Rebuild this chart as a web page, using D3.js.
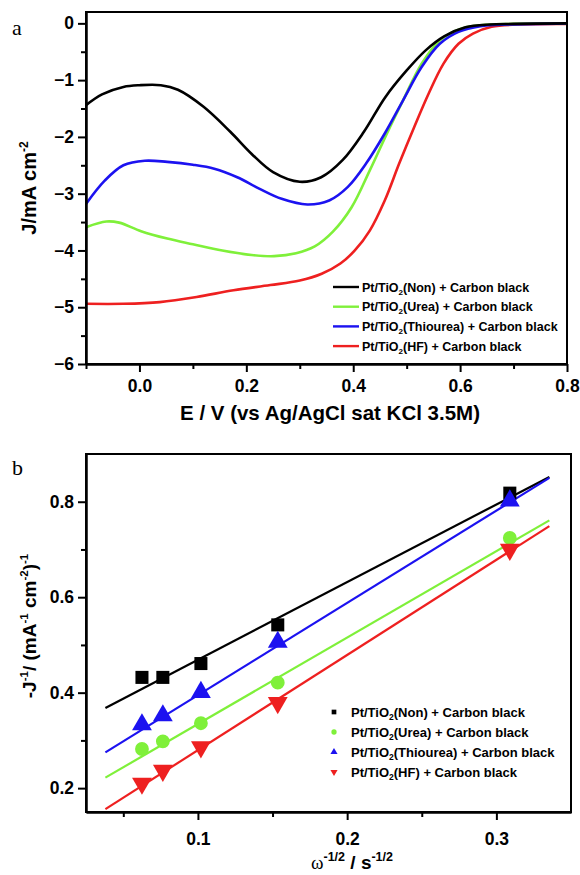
<!DOCTYPE html>
<html>
<head>
<meta charset="utf-8">
<script src="https://cdn.jsdelivr.net/npm/d3@7"></script>
<style>
  body { margin: 0; background: #fff; }
  svg { display: block; }
  .tick text { font-family: "Liberation Sans", Arial, sans-serif; font-weight: bold; }
</style>
</head>
<body>
<script>
// ---- panel a data (E in V, J in mA cm-2)
var labels = ["Non", "Urea", "Thiourea", "HF"];
var colors = ["#000000", "#7ff03a", "#1c12f0", "#ee2020"];

var non_E = [-0.1, -0.07, -0.03, 0.0, 0.04, 0.072, 0.12, 0.17, 0.21, 0.25, 0.30, 0.34, 0.38, 0.42, 0.46, 0.50, 0.535, 0.57, 0.61, 0.655, 0.70, 0.80];
var non_J = [-1.44, -1.25, -1.12, -1.09, -1.09, -1.17, -1.47, -1.91, -2.30, -2.62, -2.79, -2.71, -2.41, -1.91, -1.30, -0.83, -0.48, -0.23, -0.07, -0.02, -0.01, 0];

var urea_E = [-0.1, -0.062, -0.038, 0.003, 0.052, 0.10, 0.155, 0.21, 0.252, 0.293, 0.328, 0.362, 0.397, 0.431, 0.466, 0.493, 0.528, 0.562, 0.603, 0.655, 0.70, 0.80];
var urea_J = [-3.59, -3.49, -3.51, -3.66, -3.79, -3.89, -4.00, -4.08, -4.10, -4.05, -3.93, -3.67, -3.24, -2.59, -1.88, -1.36, -0.71, -0.30, -0.09, -0.02, -0.01, 0];

var thio_E = [-0.1, -0.065, -0.03, 0.01, 0.052, 0.10, 0.14, 0.183, 0.224, 0.266, 0.314, 0.355, 0.39, 0.424, 0.459, 0.493, 0.528, 0.562, 0.597, 0.638, 0.693, 0.80];
var thio_J = [-3.18, -2.77, -2.50, -2.42, -2.44, -2.49, -2.56, -2.71, -2.91, -3.09, -3.19, -3.12, -2.88, -2.47, -1.94, -1.36, -0.77, -0.36, -0.15, -0.05, -0.02, 0];

var hf_E = [-0.1, -0.03, 0.038, 0.107, 0.176, 0.245, 0.30, 0.341, 0.376, 0.403, 0.431, 0.459, 0.486, 0.514, 0.541, 0.569, 0.597, 0.624, 0.659, 0.707, 0.80];
var hf_J = [-4.94, -4.94, -4.91, -4.82, -4.70, -4.61, -4.53, -4.41, -4.23, -4.00, -3.65, -3.12, -2.47, -1.83, -1.24, -0.71, -0.36, -0.18, -0.06, -0.02, -0.01];

// ---- panel b data (omega^-1/2 vs -1/J)
var omega = [0.0625, 0.0765, 0.102, 0.1535, 0.309];
var non_inv = [0.432, 0.432, 0.461, 0.542, 0.818];
var urea_inv = [0.282, 0.298, 0.336, 0.421, 0.724];
var thio_inv = [0.333, 0.352, 0.401, 0.506, 0.802];
var hf_inv = [0.210, 0.237, 0.286, 0.379, 0.700];
// fitted lines, end points as drawn
var fit_x = [0.038, 0.3355];
var non_fit = [0.368, 0.852];
var urea_fit = [0.222, 0.761];
var thio_fit = [0.275, 0.850];
var hf_fit = [0.156, 0.749];

var top_xticks = [0.0, 0.2, 0.4, 0.6, 0.8];
var top_xminor = [-0.1, 0.1, 0.3, 0.5, 0.7];
var top_yticks = [0, -1, -2, -3, -4, -5, -6];
var top_yminor = [-0.5, -1.5, -2.5, -3.5, -4.5, -5.5];
var bot_xticks = [0.1, 0.2, 0.3];
var bot_xminor = [0.05, 0.15, 0.25];
var bot_yticks = [0.2, 0.4, 0.6, 0.8];
var bot_yminor = [0.3, 0.5, 0.7];

var W = 580, H = 875;
var font = '"Liberation Sans", Arial, sans-serif';

var svg = d3.select("body").append("svg")
  .attr("width", W).attr("height", H);

var zip = function(xs, ys) { return xs.map(function(x, i) { return [x, ys[i]]; }); };

// draws the outer box and the axes (major + minor ticks)
var draw_frame = function(g, x, y, xt, xm, yt, ym, xfmt, yfmt, xpad) {
  var x0 = x.range()[0], x1 = x.range()[1], y0 = y.range()[0], y1 = y.range()[1];
  g.append("rect")
    .attr("x", x0).attr("y", y1).attr("width", x1 - x0).attr("height", y0 - y1)
    .attr("fill", "none").attr("stroke", "#000").attr("stroke-width", 2);

  var ax = g.append("g").attr("transform", "translate(0," + y0 + ")")
    .call(d3.axisBottom(x).tickValues(xt).tickFormat(xfmt).tickSize(8).tickSizeOuter(0).tickPadding(xpad));
  var axm = g.append("g").attr("transform", "translate(0," + y0 + ")")
    .call(d3.axisBottom(x).tickValues(xm).tickFormat("").tickSize(5).tickSizeOuter(0));
  var ay = g.append("g").attr("transform", "translate(" + x0 + ",0)")
    .call(d3.axisLeft(y).tickValues(yt).tickFormat(yfmt).tickSize(8).tickSizeOuter(0).tickPadding(4));
  var aym = g.append("g").attr("transform", "translate(" + x0 + ",0)")
    .call(d3.axisLeft(y).tickValues(ym).tickFormat("").tickSize(5).tickSizeOuter(0));
  [ax, axm, ay, aym].forEach(function(a) {
    a.select(".domain").attr("stroke-width", 2);
    a.selectAll(".tick line").attr("stroke-width", 2);
    a.selectAll(".tick text").attr("font-size", 17.5).attr("fill", "#000");
  });
};

// ---------------- panel a ----------------
var xa = d3.scaleLinear().domain([-0.1, 0.8]).range([86, 567]);
var ya = d3.scaleLinear().domain([-6, 0.2]).range([364, 12]);
var ga = svg.append("g");

var curves = [zip(non_E, non_J), zip(urea_E, urea_J), zip(thio_E, thio_J), zip(hf_E, hf_J)];
var line_a = d3.line().x(function(d) { return xa(d[0]); }).y(function(d) { return ya(d[1]); })
  .curve(d3.curveCatmullRom.alpha(0.5));

// draw order: HF, Urea, Thiourea, Non
[3, 1, 2, 0].forEach(function(i) {
  ga.append("path").datum(curves[i])
    .attr("d", line_a).attr("fill", "none")
    .attr("stroke", colors[i]).attr("stroke-width", 2.6);
});

draw_frame(ga, xa, ya, top_xticks, top_xminor, top_yticks, top_yminor,
  d3.format(".1f"), d3.format("d"), 8);

ga.append("text").attr("x", 12).attr("y", 35)
  .attr("font-family", "Liberation Serif, serif").attr("font-size", 22).text("a");

ga.append("text")
  .attr("transform", "translate(36,188) rotate(-90)")
  .attr("text-anchor", "middle")
  .attr("font-family", font).attr("font-weight", "bold").attr("font-size", 20)
  .html('J/mA cm<tspan dy="-8" font-size="12">-2</tspan>');

ga.append("text").attr("x", 330).attr("y", 420)
  .attr("text-anchor", "middle")
  .attr("font-family", font).attr("font-weight", "bold").attr("font-size", 20.5)
  .text("E / V (vs Ag/AgCl sat KCl 3.5M)");

// legend a
var legA = ga.append("g");
labels.forEach(function(lab, i) {
  var yy = 287 + i * 19.7;
  legA.append("line").attr("x1", 333).attr("x2", 359).attr("y1", yy).attr("y2", yy)
    .attr("stroke", colors[i]).attr("stroke-width", 2.4);
  legA.append("text").attr("x", 362).attr("y", yy + 4.5)
    .attr("font-family", font).attr("font-weight", "bold").attr("font-size", 12.5)
    .html('Pt/TiO<tspan dy="3" font-size="8">2</tspan><tspan dy="-3">(' + lab + ') + Carbon black</tspan>');
});

// ---------------- panel b ----------------
var xb = d3.scaleLinear().domain([0.025, 0.35]).range([86, 571]);
var yb = d3.scaleLinear().domain([0.15, 0.9]).range([812, 454]);
var gb = svg.append("g");

var fits = [non_fit, urea_fit, thio_fit, hf_fit];
var pts = [non_inv, urea_inv, thio_inv, hf_inv];
var line_b = d3.line().x(function(d) { return xb(d[0]); }).y(function(d) { return yb(d[1]); });

[0, 1, 2, 3].forEach(function(i) {
  gb.append("path").datum(zip(fit_x, fits[i]))
    .attr("d", line_b).attr("fill", "none")
    .attr("stroke", colors[i]).attr("stroke-width", 2.2);
});

var sym = [d3.symbolSquare, d3.symbolCircle, d3.symbolTriangle, d3.symbolTriangle];
var symSize = [170, 150, 170, 170];
[0, 1, 2, 3].forEach(function(i) {
  gb.selectAll(".pt" + i).data(zip(omega, pts[i])).enter().append("path")
    .attr("class", "pt" + i)
    .attr("transform", function(d) {
      return "translate(" + xb(d[0]) + "," + yb(d[1]) + ")" + (i == 3 ? " rotate(180)" : "");
    })
    .attr("d", d3.symbol().type(sym[i]).size(symSize[i]))
    .attr("fill", colors[i]);
});

draw_frame(gb, xb, yb, bot_xticks, bot_xminor, bot_yticks, bot_yminor,
  d3.format(".1f"), d3.format(".1f"), 13);

gb.append("text").attr("x", 12).attr("y", 475)
  .attr("font-family", "Liberation Serif, serif").attr("font-size", 22).text("b");

gb.append("text")
  .attr("transform", "translate(36,626) rotate(-90)")
  .attr("text-anchor", "middle")
  .attr("font-family", font).attr("font-weight", "bold").attr("font-size", 19)
  .html('-J<tspan dy="-8" font-size="11.5">-1</tspan><tspan dy="8">/ (mA</tspan><tspan dy="-8" font-size="11.5">-1</tspan><tspan dy="8"> cm</tspan><tspan dy="-8" font-size="11.5">-2</tspan><tspan dy="8">)</tspan><tspan dy="-8" font-size="11.5">-1</tspan>');

gb.append("text").attr("x", 352).attr("y", 869)
  .attr("text-anchor", "middle")
  .attr("font-family", font).attr("font-weight", "bold").attr("font-size", 19)
  .html('<tspan font-family="Liberation Serif, serif" font-weight="normal">ω</tspan><tspan dy="-8" font-size="12.5">-1/2</tspan><tspan dy="8"> / s</tspan><tspan dy="-8" font-size="12.5">-1/2</tspan>');

// legend b
var legB = gb.append("g");
labels.forEach(function(lab, i) {
  var yy = 712 + i * 20;
  legB.append("path")
    .attr("transform", "translate(334," + yy + ")" + (i == 3 ? " rotate(180)" : ""))
    .attr("d", d3.symbol().type(sym[i]).size(22))
    .attr("fill", colors[i]);
  legB.append("text").attr("x", 351).attr("y", yy + 5)
    .attr("font-family", font).attr("font-weight", "bold").attr("font-size", 13)
    .html('Pt/TiO<tspan dy="3" font-size="8.5">2</tspan><tspan dy="-3">(' + lab + ') + Carbon black</tspan>');
});
</script>
</body>
</html>
